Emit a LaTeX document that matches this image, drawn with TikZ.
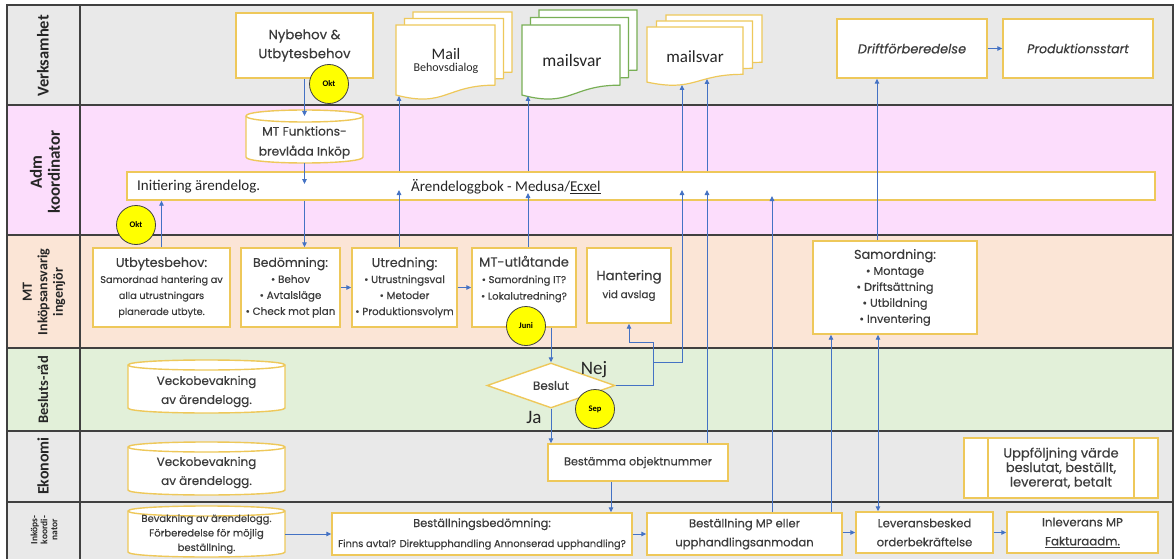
\documentclass[tikz,border=0pt]{standalone}
\usepackage{fontspec}
\setmainfont{Poppins}[FakeBold=0.35]
\newfontfamily\calib{Carlito}
\usetikzlibrary{arrows.meta,shapes.geometric,calc}

\definecolor{laneGray}{RGB}{233,233,233}
\definecolor{lanePink}{RGB}{252,221,252}
\definecolor{lanePeach}{RGB}{251,229,214}
\definecolor{laneGreen}{RGB}{226,240,217}
\definecolor{sepLine}{RGB}{64,64,64}
\definecolor{boxY}{RGB}{238,200,90}
\definecolor{docG}{RGB}{120,175,85}
\definecolor{arrB}{RGB}{68,114,196}
\definecolor{txt}{RGB}{60,60,60}
\definecolor{circY}{RGB}{255,255,0}

\newcommand{\docpage}[5]{\filldraw[fill=white,draw=#5,line width=1.2pt] (#1,#2) -- ({#1+#3},#2) -- ({#1+#3},{#2+0.802*#4}) .. controls ({#1+0.5*#3},{#2+0.802*#4}) and ({#1+0.5*#3},{#2+1.107*#4}) .. (#1,{#2+0.934*#4}) -- cycle;}

\newcommand{\cylshape}[5]{%
\filldraw[fill=white,draw=boxY,line width=1.4pt] (#1,{#2+#5}) -- (#1,{#4-#5}) .. controls (#1,{#4+#5/3}) and (#3,{#4+#5/3}) .. (#3,{#4-#5}) -- (#3,{#2+#5}) .. controls (#3,{#2-#5/3}) and (#1,{#2-#5/3}) .. (#1,{#2+#5}) -- cycle;
\draw[draw=boxY,line width=1.4pt] (#1,{#2+#5}) .. controls (#1,{#2+7*#5/3}) and (#3,{#2+7*#5/3}) .. (#3,{#2+#5});}

\tikzset{
  box/.style={draw=boxY, line width=1.4pt, fill=white, inner sep=0pt, align=center, text=txt},
  plain/.style={inner sep=0pt, align=center, text=txt},
  lbl/.style={rotate=90, align=center, inner sep=0pt, text=black!85},
  arr/.style={draw=arrB, line width=0.9pt, -{Triangle[length=5pt,width=4.5pt]}},
  arrtwo/.style={draw=arrB, line width=0.9pt, {Triangle[length=5pt,width=4.5pt]}-{Triangle[length=5pt,width=4.5pt]}},
  circ/.style={circle, fill=circY, draw=sepLine, line width=0.8pt, minimum size=39pt, inner sep=0pt, font=\calib\bfseries\fontsize{8.5}{9}\selectfont},
  sep/.style={draw=sepLine, line width=1.3pt},
  cal/.style={inner sep=0pt, align=center, text=black!85},
}

\begin{document}
\begin{tikzpicture}[x=1pt,y=-1pt]
\useasboundingbox (0,0) rectangle (1175,559);
% lanes
\fill[laneGray] (7,5) rectangle (1173,105);
\fill[lanePink] (7,105) rectangle (1173,235);
\fill[lanePeach] (7,235) rectangle (1173,348);
\fill[laneGreen] (7,348) rectangle (1173,431);
\fill[laneGray] (7,431) rectangle (1173,502);
\fill[laneGray] (7,502) rectangle (1173,559);
\draw[sep] (7,559) -- (7,5) -- (1173,5) -- (1173,559);
\draw[sep] (80,5) -- (80,559);
\foreach \yy in {105,235,348,431,502} \draw[sep] (7,\yy) -- (1173,\yy);

% lane labels
\node[lbl, font=\calib\bfseries\fontsize{16.5}{18}\selectfont] (lVerk) at (43,56) {Verksamhet};
\node[lbl, font=\calib\bfseries\fontsize{17}{18}\selectfont] (lAdm) at (45,172) {Adm\\koordinator};
\node[lbl, font=\calib\bfseries\fontsize{14}{15.5}\selectfont] (lMT) at (44,292) {MT\\Inköpsansvarig\\ingenjör};
\node[lbl, font=\calib\bfseries\fontsize{14.5}{16}\selectfont] (lBes) at (43,390) {Besluts-råd};
\node[lbl, font=\calib\bfseries\fontsize{16}{18}\selectfont] (lEko) at (43,466) {Ekonomi};
\node[lbl, font=\calib\bfseries\fontsize{9.5}{10}\selectfont] (lInk) at (44,530) {Inköps-\\koordi-\\nator};

% log bar
\node[box, minimum width=1028pt, minimum height=28pt] (bar) at (641,186) {};
\node[cal, anchor=west, font=\calib\fontsize{15}{17}\selectfont] (initT) at (137,187) {Initiering ärendelog.};
\node[cal, anchor=west, font=\calib\fontsize{15}{17}\selectfont] (arT) at (411,187) {Ärendeloggbok - Medusa/\underline{Ecxel}};

% coordinates for connectors
\coordinate (funkTop) at (304.5,116);
\coordinate (barIn1) at (304.5,184);
\coordinate (cU) at (399,190);
\coordinate (mailB) at (399,96);
\coordinate (cM) at (528,193);
\coordinate (grnB) at (528,96);
\coordinate (hj) at (653,342);
\coordinate (kj) at (653,362);
\coordinate (c682) at (682,190);
\coordinate (ysA) at (682,85);
\coordinate (c707) at (707,190);
\coordinate (ysB) at (707,79);
\coordinate (c772) at (772,196);
\coordinate (c877) at (877,0);
\coordinate (c831) at (831,0);
\coordinate (c878) at (878,0);
\coordinate (c611) at (611,0);

% cylinders
\cylshape{246}{110}{363}{163}{6}
\node[plain, minimum width=117pt, minimum height=41pt, font=\fontsize{12.2}{20}\selectfont] (funk) at (304.5,142.5) {MT Funktions-\\brevlåda Inköp};
\cylshape{128}{360}{285}{413}{5}
\node[plain, minimum width=157pt, minimum height=43pt, font=\fontsize{12}{19}\selectfont] (veck1) at (206.5,391.5) {Veckobevakning\\av ärendelogg.};
\cylshape{128}{442}{285}{495}{5}
\node[plain, minimum width=157pt, minimum height=43pt, font=\fontsize{12}{19}\selectfont] (veck2) at (206.5,472.5) {Veckobevakning\\av ärendelogg.};
\cylshape{128}{506}{285}{557}{5}
\node[plain, minimum width=157pt, minimum height=41pt, font=\fontsize{10}{14.5}\selectfont] (bevak) at (206.5,534) {Bevakning av ärendelogg.\\Förberedelse för möjlig\\beställning.};

% boxes
\node[box, minimum width=137pt, minimum height=65pt, font=\fontsize{13.3}{19}\selectfont] (nybehov) at (304.5,45.5) {Nybehov \&\\Utbytesbehov};
\node[box, minimum width=150pt, minimum height=59pt, font=\itshape\fontsize{13}{15}\selectfont] (drift) at (912,48.5) {Driftförberedelse};
\node[box, minimum width=150pt, minimum height=59pt, font=\itshape\fontsize{12.5}{15}\selectfont] (prod) at (1078,48.5) {Produktionsstart};

\node[box, minimum width=137pt, minimum height=79pt, font=\fontsize{9.7}{16}\selectfont] (utby) at (161.5,287.5) {{\fontsize{12.8}{16}\selectfont Utbytesbehov:}\\Samordnad hantering av\\alla utrustningars\\planerade utbyte.};
\node[box, minimum width=99pt, minimum height=79pt, font=\fontsize{10.4}{16}\selectfont] (bedom) at (290.5,287.5) {{\fontsize{12.5}{16}\selectfont Bedömning:}\\\textbullet{} Behov\\\textbullet{} Avtalsläge\\\textbullet{} Check mot plan};
\node[box, minimum width=105pt, minimum height=79pt, font=\fontsize{10.3}{16}\selectfont] (utred) at (404.5,287.5) {{\fontsize{12.8}{16}\selectfont Utredning:}\\\textbullet{} Utrustningsval\\\textbullet{} Metoder\\\textbullet{} Produktionsvolym};
\node[box, minimum width=104pt, minimum height=79pt, font=\fontsize{10}{16.5}\selectfont] (mtutl) at (524,287.5) {{\fontsize{13.1}{16.5}\selectfont MT-utlåtande}\\\textbullet{} Samordning IT?\\\textbullet{} Lokalutredning?\\[3pt]};
\node[box, minimum width=84pt, minimum height=75pt, font=\fontsize{10.4}{18}\selectfont] (hant) at (629,285.5) {{\fontsize{13.2}{18}\selectfont Hantering}\\vid avslag};
\node[box, minimum width=164pt, minimum height=93pt, font=\fontsize{11.3}{16}\selectfont] (samord) at (895,287.5) {{\fontsize{12.8}{16}\selectfont Samordning:}\\\textbullet{} Montage\\\textbullet{} Driftsättning\\\textbullet{} Utbildning\\\textbullet{} Inventering};

\node[diamond, draw=boxY, line width=1.4pt, fill=white, minimum width=128pt, minimum height=45pt, aspect=2.8, inner sep=0pt, text=txt, font=\fontsize{12}{14}\selectfont] (beslut) at (551,385.5) {Beslut};

\node[box, minimum width=180pt, minimum height=37pt, font=\fontsize{11.2}{14}\selectfont] (best) at (638,462.5) {Bestämma objektnummer};
\node[box, minimum width=194pt, minimum height=60pt, font=\fontsize{13}{14.5}\selectfont] (uppf) at (1061,468) {Uppföljning värde\\beslutat, beställt,\\levererat, betalt};
\draw[draw=boxY, line width=1.4pt] (988,438) -- (988,498) (1134,438) -- (1134,498);

\node[box, minimum width=300pt, minimum height=42pt, font=\fontsize{9.9}{20}\selectfont] (bbed) at (482,534) {{\fontsize{11.4}{20}\selectfont Beställningsbedömning:}\\Finns avtal? Direktupphandling Annonserad upphandling?};
\node[box, minimum width=195pt, minimum height=42pt, font=\fontsize{11.6}{19}\selectfont] (bestMP) at (744.5,534) {Beställning MP eller\\upphandlingsanmodan};
\node[box, minimum width=137pt, minimum height=41pt, font=\fontsize{11.6}{19}\selectfont] (lev) at (924.5,532.5) {Leveransbesked\\orderbekräftelse};
\node[box, minimum width=151pt, minimum height=41pt, font=\fontsize{11.8}{19}\selectfont] (inlev) at (1082.5,532.5) {Inleverans MP\\\underline{Fakturaadm.}};

% documents
\docpage{413}{12}{99}{75}{boxY}
\docpage{404.5}{18.5}{99}{75}{boxY}
\docpage{396}{25}{99}{75}{boxY}
\node[cal] (mail) at (446,61) {{\calib\fontsize{16}{18}\selectfont Mail}\\{\calib\fontsize{12}{13}\selectfont Behovsdialog}};
\docpage{539}{10}{98}{75}{docG}
\docpage{530.5}{17.5}{98}{75}{docG}
\docpage{522}{25}{98}{75}{docG}
\node[cal, font=\calib\fontsize{17.5}{19}\selectfont] (svar1) at (572,60) {mailsvar};
\docpage{666}{15}{96}{59}{boxY}
\docpage{656.5}{21}{96}{59}{boxY}
\docpage{647}{27}{96}{59}{boxY}
\node[cal, font=\calib\fontsize{17}{19}\selectfont] (svar2) at (695,57) {mailsvar};

% connectors
\draw[arr] (nybehov.south) -- (nybehov.south |- funkTop);
\draw[arr] (funk.south) -- (barIn1);
\draw[arr] (funk.south |- bar.south) -- (funk.south |- bedom.north);
\draw[arr] (utby.north) -- (utby.north |- bar.south);
\draw[arr] (cU |- utred.north) -- (cU);
\draw[arr] (cU |- bar.north) -- (mailB);
\draw[arr] (cM |- mtutl.north) -- (cM);
\draw[arr] (cM |- bar.north) -- (grnB);
\draw[arr] (beslut.east) -- (beslut.east -| hj) -- (hj) -- (hj -| hant.south) -- (hant.south);
\draw[arr] (kj) -- (kj -| c682) -- (c682);
\draw[arr] (c682 |- bar.north) -- (ysA);
\draw[arr] (c707 |- best.north) -- (c707);
\draw[arr] (c707 |- bar.north) -- (ysB);
\draw[arr] (c772 |- bestMP.north) -- (c772);
\draw[arr] (c877 |- samord.north) -- (c877 |- drift.south);
\draw[arr] (c831 |- bestMP.north) -- (c831 |- samord.south);
\draw[arrtwo] (c878 |- samord.south) -- (c878 |- lev.north);
\draw[arr] (c611 |- best.south) -- (c611 |- bbed.north);
\draw[arr] (beslut.south) -- (beslut.south |- best.north);
\draw[arr] (beslut.north |- mtutl.south) -- (beslut.north);
\draw[arr] (bedom.east) -- (utred.west);
\draw[arr] (utred.east) -- (mtutl.west);
\draw[arr] (drift.east) -- (prod.west);
\draw[arr] (bevak.east |- bbed.west) -- (bbed.west);
\draw[arr] (bbed.east) -- (bestMP.west);
\draw[arr] (bestMP.east |- lev.west) -- (lev.west);
\draw[arr] (lev.east) -- (inlev.west);

% decision labels
\node[cal, font=\calib\fontsize{19}{20}\selectfont] (nej) at (594,370) {Nej};
\node[cal, font=\calib\fontsize{19}{20}\selectfont] (ja) at (534,417) {Ja};

% month markers
\node[circ] (okt1) at (329,84) {Okt};
\node[circ] (okt2) at (136,225) {Okt};
\node[circ] (juni) at (526,326) {Juni};
\node[circ] (sepc) at (595,409) {Sep};
\end{tikzpicture}
\end{document}
